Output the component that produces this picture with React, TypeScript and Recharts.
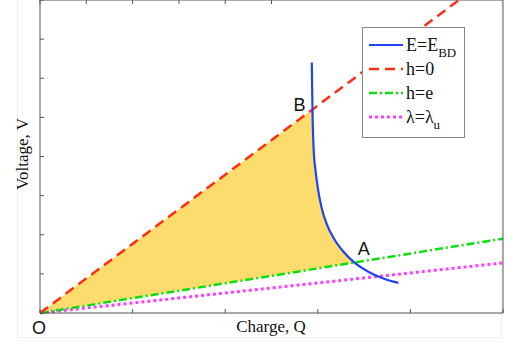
import React from 'react';
import { ComposedChart, Line, Area, XAxis, YAxis, ReferenceDot } from 'recharts';

// axis ticks (no labels shown, just tick marks)
const chargeTicks = [0, 1, 2, 3, 4, 5];
const voltageTicks = [0, 1, 2, 3, 4, 5, 6, 7, 8];

// E = E_BD curve
const breakdownQ = [2.935, 2.94, 2.945, 2.955, 2.975, 3.0, 3.04, 3.1, 3.18, 3.28, 3.4, 3.55, 3.7, 3.87];
const breakdownV = [6.4, 5.6, 4.9, 4.2, 3.65, 3.2, 2.7, 2.25, 1.88, 1.56, 1.28, 1.05, 0.89, 0.77];

// h = 0
const h0Q = [0, 4.525];
const h0V = [0, 8];

// h = e
const heQ = [0, 5];
const heV = [0, 1.9];

// lambda = lambda_u
const lambdaQ = [0, 5];
const lambdaV = [0, 1.28];

// shaded region O-B-A
const regionQ = [0, 2.942, 2.945, 2.955, 2.975, 3.0, 3.04, 3.1, 3.18, 3.28, 3.4];
const regionLow = [0, 1.12, 1.12, 1.12, 1.13, 1.14, 1.15, 1.18, 1.21, 1.24, 1.29];
const regionHigh = [0, 5.2, 4.9, 4.2, 3.65, 3.2, 2.7, 2.25, 1.88, 1.56, 1.29];

const pointA = { q: 3.4, v: 1.29 };
const pointB = { q: 2.942, v: 5.2 };

const zip = (qs: number[], vs: number[]) => qs.map((q, i) => ({ q, v: vs[i] }));
const regionData = regionQ.map((q, i) => ({ q, range: [regionLow[i], regionHigh[i]] }));

const legendItems = [
  { label: 'E=E', sub: 'BD', color: '#1f45f2', dash: undefined, width: 2.2 },
  { label: 'h=0', sub: '', color: '#ff2d10', dash: '10 6', width: 2.5 },
  { label: 'h=e', sub: '', color: '#10dd10', dash: '8 3 2 3', width: 2.5 },
  { label: '\u03bb=\u03bb', sub: 'u', color: '#ff3cff', dash: '3 3', width: 3 },
];

const serif = '"Liberation Serif", "DejaVu Serif", serif';
const sans = '"Liberation Sans", Arial, sans-serif';
const axisColor = '#555';

const noTick = () => <g />;

const pointLabel = (text: string, dx: number, dy: number) => (props: any) => {
  const vb = props.viewBox || {};
  return (
    <text x={vb.x + dx} y={vb.y + dy} textAnchor="middle" fontFamily={sans} fontSize={18} fill="#111">
      {text}
    </text>
  );
};

export default function App() {
  return (
    <div style={{ position: 'absolute', left: 0, top: 0, width: 506, height: 343, background: '#fff' }}>
      <div style={{ position: 'absolute', left: 17, top: -2, width: 485, height: 340, border: '1px solid #f0f0f0', boxSizing: 'border-box' }} />
      <ComposedChart width={506} height={343} data={regionData} margin={{ top: 0, right: 3, bottom: 30, left: 40 }}>
        <XAxis dataKey="q" type="number" domain={[0, 5]} ticks={chargeTicks} tick={noTick} tickLine={{ stroke: axisColor }} mirror height={1} tickSize={4} stroke={axisColor} />
        <XAxis xAxisId="top" orientation="top" type="number" domain={[0, 5]} ticks={chargeTicks} tick={noTick} tickLine={{ stroke: axisColor }} mirror height={1} tickSize={4} stroke={axisColor} />
        <YAxis type="number" domain={[0, 8]} ticks={voltageTicks} tick={noTick} tickLine={{ stroke: axisColor }} mirror width={1} tickSize={4} stroke={axisColor} />
        <YAxis yAxisId="right" orientation="right" type="number" domain={[0, 8]} ticks={voltageTicks} tick={noTick} tickLine={{ stroke: axisColor }} mirror width={1} tickSize={4} stroke={axisColor} />
        <Area dataKey="range" type="linear" fill="#fcdc6c" fillOpacity={1} stroke="none" isAnimationActive={false} />
        <Line data={zip(lambdaQ, lambdaV)} dataKey="v" type="linear" stroke="#ff3cff" strokeWidth={3} strokeDasharray="3 3" dot={false} isAnimationActive={false} />
        <Line data={zip(heQ, heV)} dataKey="v" type="linear" stroke="#10dd10" strokeWidth={2.5} strokeDasharray="8 3 2 3" dot={false} isAnimationActive={false} />
        <Line data={zip(h0Q, h0V)} dataKey="v" type="linear" stroke="#ff2d10" strokeWidth={2.5} strokeDasharray="10 6" dot={false} isAnimationActive={false} />
        <Line data={zip(breakdownQ, breakdownV)} dataKey="v" type="monotone" stroke="#1f45f2" strokeWidth={2.2} dot={false} isAnimationActive={false} />
        <ReferenceDot x={pointB.q} y={pointB.v} r={0} stroke="none" label={{ content: pointLabel('B', -13, 1) }} />
        <ReferenceDot x={pointA.q} y={pointA.v} r={0} stroke="none" label={{ content: pointLabel('A', 9, -8) }} />
        <ReferenceDot x={0} y={0} r={0} stroke="none" label={{ content: pointLabel('O', -1, 21) }} />
      </ComposedChart>

      <div style={{ position: 'absolute', left: 362, top: 27, width: 103, height: 111, border: '1px solid #888', background: '#fff', boxSizing: 'border-box' }}>
        {legendItems.map((it, i) => (
          <div key={i} style={{ position: 'absolute', left: 5, top: 5 + i * 24, height: 24, display: 'flex', alignItems: 'center' }}>
            <svg width={36} height={10} style={{ marginRight: 2 }}>
              <line x1={1} y1={5} x2={35} y2={5} stroke={it.color} strokeWidth={it.width} strokeDasharray={it.dash} />
            </svg>
            <span style={{ fontFamily: serif, fontSize: 18, color: '#111', whiteSpace: 'nowrap' }}>
              {it.label}
              {it.sub && <span style={{ fontSize: 13, position: 'relative', top: 6 }}>{it.sub}</span>}
            </span>
          </div>
        ))}
      </div>

      <div style={{ position: 'absolute', left: 23, top: 154, transform: 'translate(-50%, -50%) rotate(-90deg)', fontFamily: serif, fontSize: 17, color: '#111', whiteSpace: 'nowrap' }}>
        Voltage, V
      </div>
      <div style={{ position: 'absolute', left: 271, top: 327, transform: 'translate(-50%, -50%)', fontFamily: serif, fontSize: 17, color: '#111', whiteSpace: 'nowrap' }}>
        Charge, Q
      </div>
    </div>
  );
}
